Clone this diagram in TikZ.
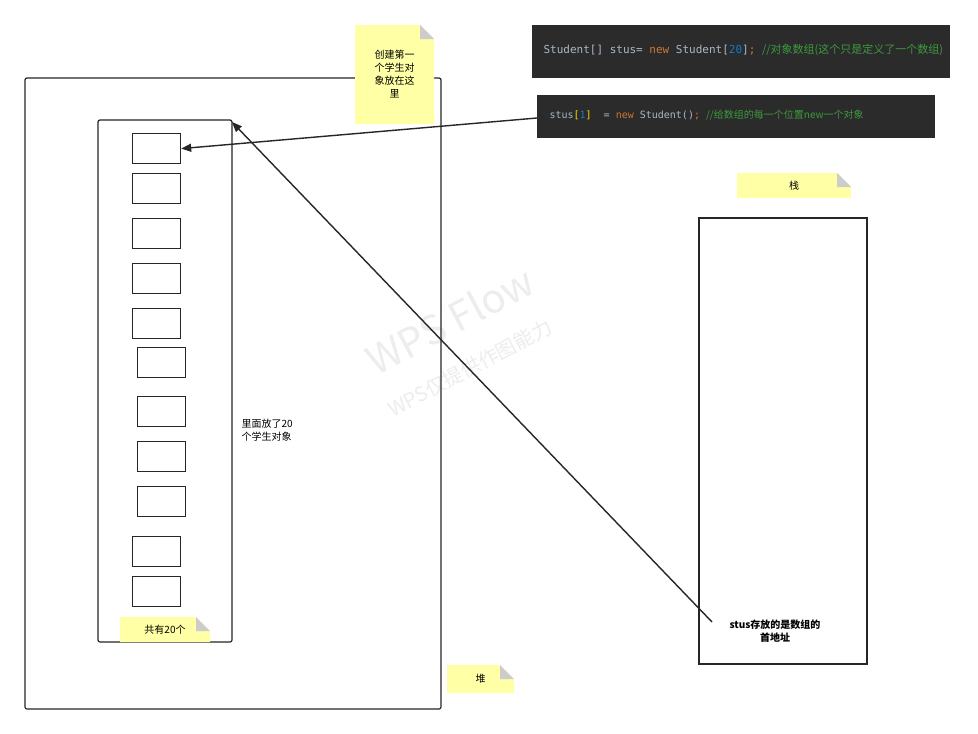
\documentclass[tikz,border=0pt]{standalone}
\usepackage{fontspec}
\setmainfont{Noto Sans CJK SC}
\newfontfamily\cjk{Noto Sans CJK SC}
\newfontfamily\codef{DejaVu Sans Mono}
\usetikzlibrary{arrows.meta}
\definecolor{noteY}{HTML}{FFFFA6}
\definecolor{codebg}{HTML}{2B2B2B}
\definecolor{kw}{HTML}{CC7832}
\definecolor{cm}{HTML}{3C9A3C}
\definecolor{tx}{HTML}{A9B7C6}
\tikzset{
  cell/.style={draw=black!85,line width=1.2pt,minimum width=48pt,minimum height=30pt,anchor=north west,inner sep=0},
  frame/.style={draw=black!85,line width=1.2pt,rounded corners=2pt},
  lbl/.style={font=\cjk\fontsize{10}{13}\selectfont,align=center},
  arr/.style={draw=black!85,line width=1.4pt,-{Triangle[length=10pt,width=8pt]}},
}
\newcommand{\note}[5]{% x1 y1 x2 y2 name
  \fill[noteY] (#1,#2) -- ({#3-14},#2) -- (#3,{#2+14}) -- (#3,#4) -- (#1,#4) -- cycle;
  \fill[black!20] ({#3-14},#2) -- (#3,{#2+14}) -- ({#3-14},{#2+14}) -- cycle;
  \coordinate (#5) at ({(#1+#3)/2},{(#2+#4)/2});
}
\begin{document}
\begin{tikzpicture}[x=1pt,y=-1pt]
\useasboundingbox (0,0) rectangle (978,734);
\fill[white] (0,0) rectangle (978,734);
\node[rotate=28,text=black!7,font=\fontsize{40}{40}\selectfont] (wm) at (450,320) {WPS Flow};
\node[rotate=28,text=black!7,font=\fontsize{20}{20}\selectfont] (wm2) at (470,368) {WPS仅提供作图能力};
\draw[frame] (25,78) rectangle (441,709);
\draw[frame] (98,120) rectangle (232,642);
\coordinate (ibtr) at (232,122);
\foreach \x/\y [count=\i] in {132/133,132/173,132/218,132/263,132/308,137/347,137/396,137/441,137/486,132/536,132/576}
  \node[cell] (c\i) at (\x,\y) {};
\draw[frame,rounded corners=0pt] (699,218) rectangle (867,664);
% code screenshots
\fill[codebg] (532,25) rectangle (950,78);
\node[anchor=west,font=\codef\fontsize{11}{12}\selectfont,text=tx] (code1) at (540,50) {Student[] stus= \textcolor{kw}{new} Student[\textcolor{cyan!60!blue}{20}]\textcolor{kw}{;} \textcolor{cm}{\cjk //对象数组(这个只是定义了一个数组)}};
\fill[codebg] (537,95) rectangle (935,138);
\node[anchor=west,font=\codef\fontsize{10}{11}\selectfont,text=tx] (code2) at (546,115) {stus\textcolor{yellow!80!orange}{[}\textcolor{cyan!60!blue}{1}\textcolor{yellow!80!orange}{]}\ \ = \textcolor{kw}{new} Student()\textcolor{kw}{;} \textcolor{cm}{\cjk //给数组的每一个位置new一个对象}};
\coordinate (c2src) at (537,118);
% notes
\note{355}{25}{434}{124}{n1}
\node[lbl] at (n1) {创建第一\\个学生对\\象放在这\\里};
\note{120}{617}{210}{642}{n2}
\node[lbl] at (n2) {共有20个};
\note{447}{665}{514}{693}{n3}
\node[lbl] at (n3) {堆};
\note{737}{173}{851}{198}{n4}
\node[lbl] at (n4) {栈};
\node[lbl,anchor=north west,align=left] (t1) at (238,416) {里面放了20\\个学生对象};
\node[lbl,font=\cjk\bfseries\fontsize{10}{13}\selectfont] (t2) at (775,631) {stus存放的是数组的\\首地址};
\draw[arr] (c2src) -- (c1.east);
\draw[arr] (712,622) -- (ibtr);
\end{tikzpicture}
\end{document}
